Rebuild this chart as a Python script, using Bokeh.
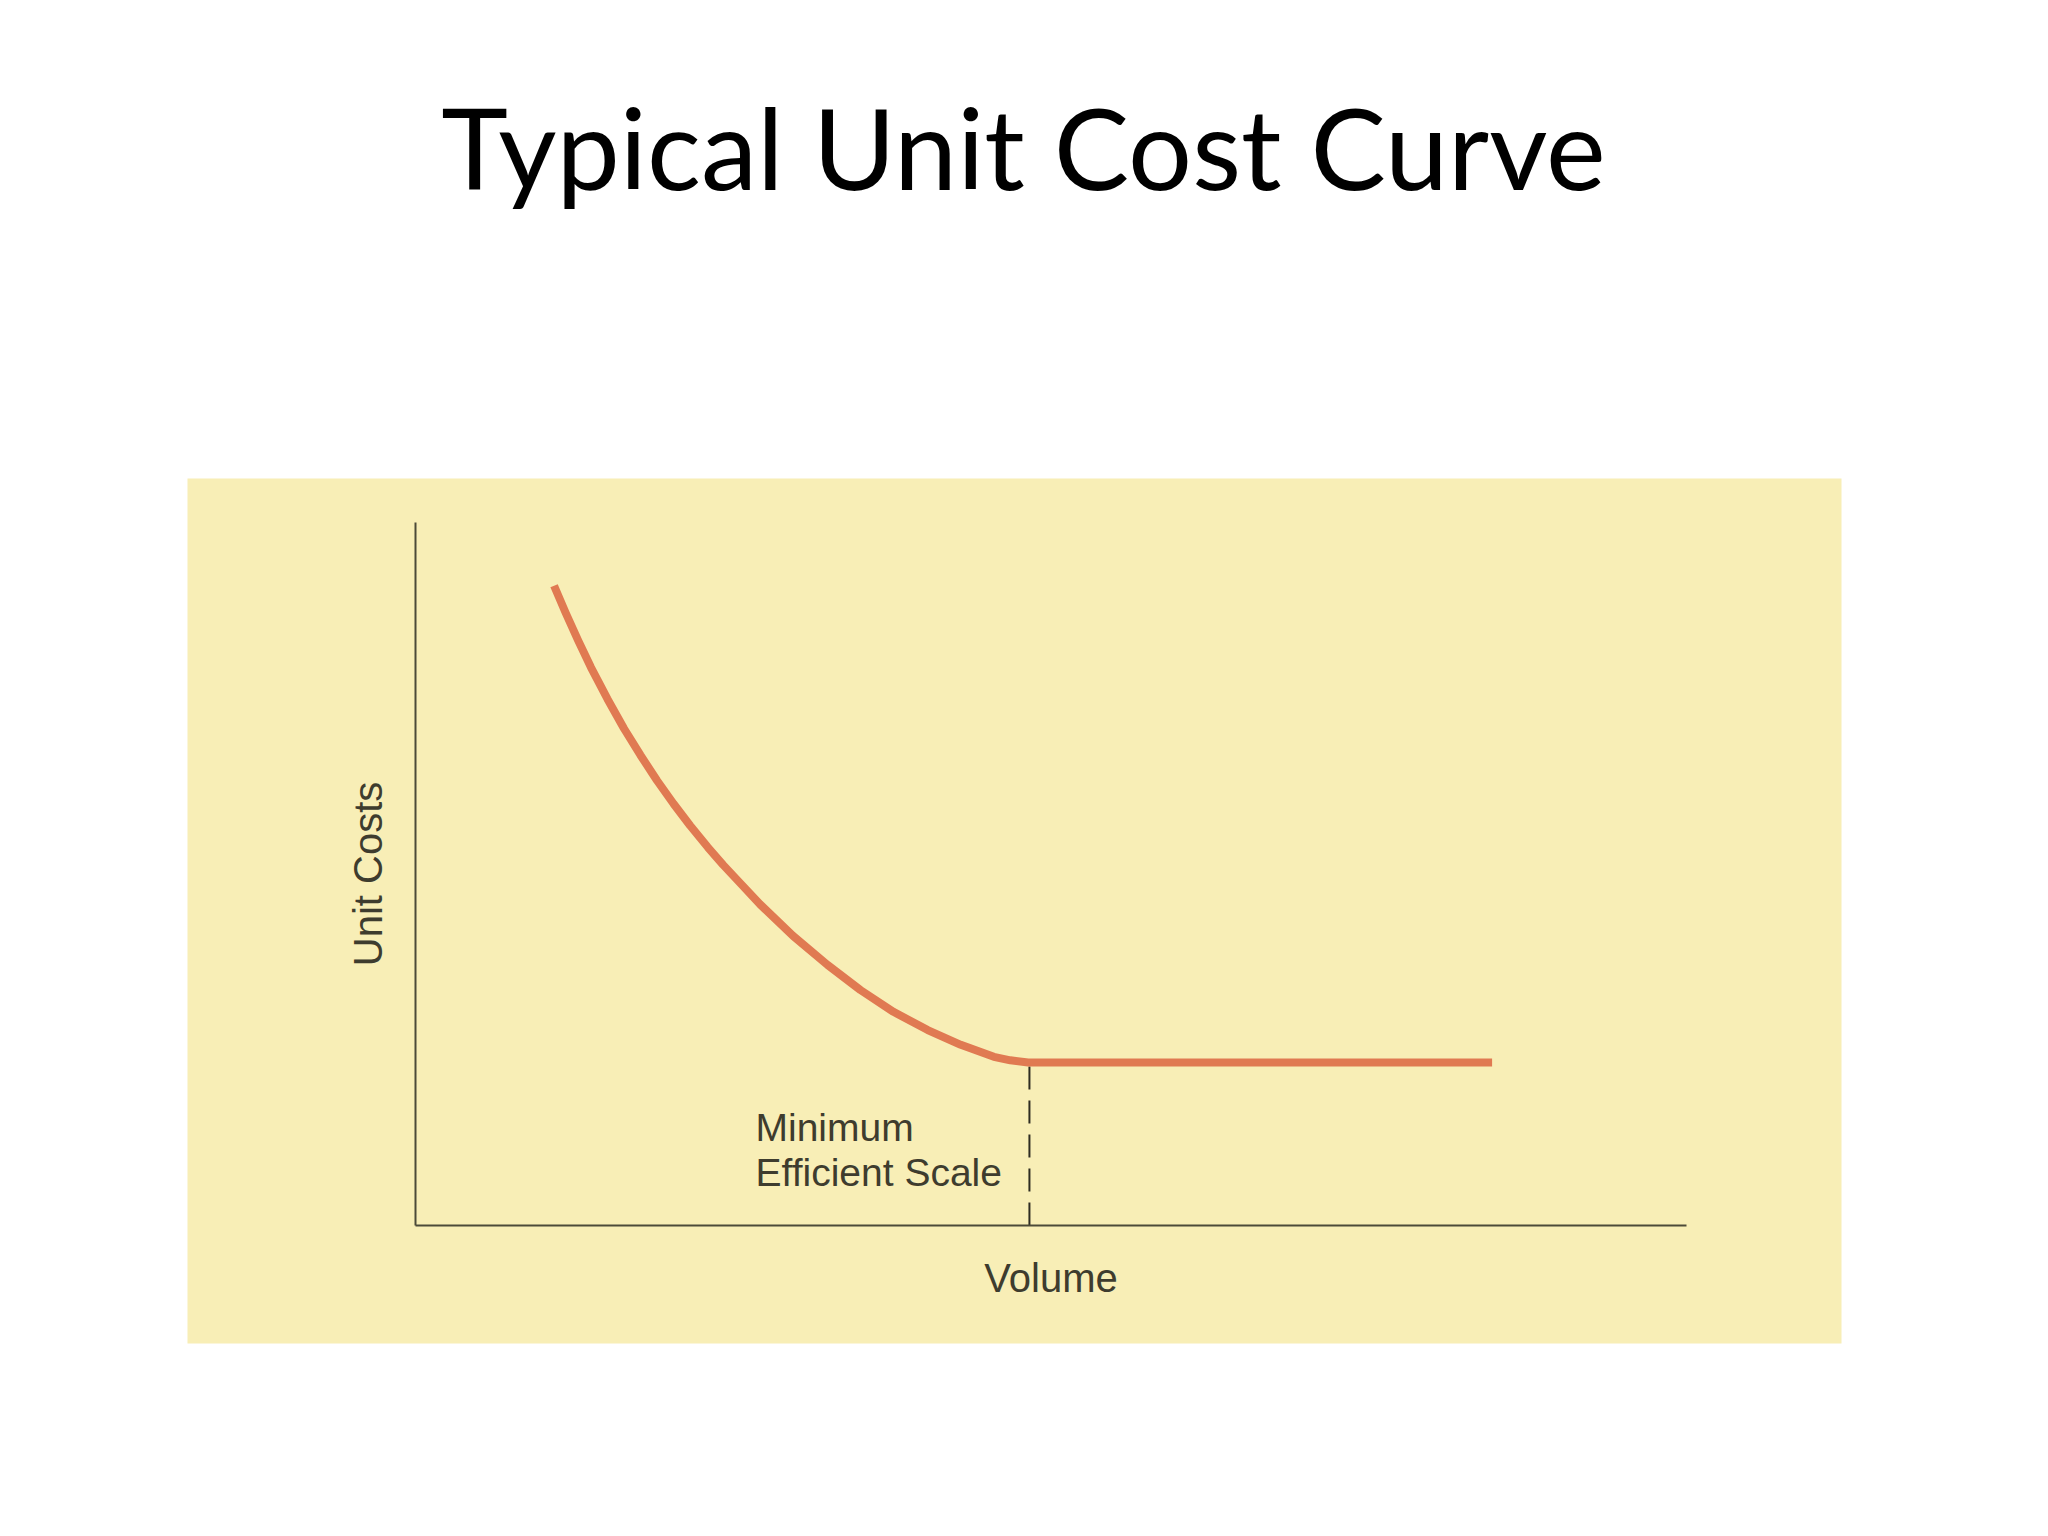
from bokeh.plotting import figure
from bokeh.layouts import column
from bokeh.models import Range1d, LinearAxis, FixedTicker, Label
from bokeh.core.properties import value
from bokeh.embed import file_html
from bokeh.resources import INLINE

# ---- data (volume and unit cost in arbitrary units 0..10) ----
volume = [1.09, 1.18, 1.28, 1.38, 1.51, 1.64, 1.77, 1.90, 2.03, 2.16, 2.30, 2.42, 2.56,
          2.71, 2.97, 3.24, 3.50, 3.76, 4.03, 4.29, 4.55, 4.68, 4.82, 8.47]
unit_cost = [9.10, 8.72, 8.32, 7.94, 7.49, 7.07, 6.69, 6.33, 6.00, 5.69, 5.38, 5.13, 4.86,
             4.57, 4.12, 3.71, 3.35, 3.04, 2.78, 2.57, 2.40, 2.35, 2.32, 2.32]
mes_volume = [4.83]
mes_cost = [2.32]
title_text = "Typical Unit Cost Curve"
x_label = "Volume"
y_label = "Unit Costs"
mes_lines = ["Minimum", "Efficient Scale"]

BG = "#f8eeb6"
CURVE = "#e07a52"
INK = "#3e3c2e"
AXIS = "#4c4a38"

# ---- title strip (its own figure, pixel coordinates) ----
TITLE_H = 300
t = figure(width=2032, height=TITLE_H, output_backend="svg", toolbar_location=None,
           x_range=Range1d(0, 2032), y_range=Range1d(TITLE_H, 0),
           min_border=0, x_axis_type=None, y_axis_type=None)
t.background_fill_color = "white"
t.border_fill_color = "white"
t.outline_line_color = None
t.xgrid.visible = False
t.ygrid.visible = False
t.text(x=[1027], y=[145], text=[title_text], text_font=value("Lato"),
       text_font_size="113px", text_color="black", text_align="center",
       text_baseline="alphabetic")

# ---- chart ----
p = figure(width=2032, height=1520 - TITLE_H, output_backend="svg", toolbar_location=None,
           x_range=Range1d(-1.794, 11.219), y_range=Range1d(-1.678, 10.626),
           min_border_left=187, min_border_right=191, min_border_top=478 - TITLE_H,
           min_border_bottom=177, x_axis_type=None, y_axis_type=None)
p.background_fill_color = BG
p.border_fill_color = "white"
p.outline_line_color = None
p.xgrid.visible = False
p.ygrid.visible = False

label_font = "Liberation Sans"

xaxis = LinearAxis(fixed_location=0, bounds=(0, 10), ticker=FixedTicker(ticks=[]),
                   axis_line_color=AXIS, axis_line_width=2,
                   major_tick_line_color=None, minor_tick_line_color=None,
                   major_label_text_alpha=0,
                   axis_label=x_label, axis_label_text_font=label_font,
                   axis_label_text_font_style="normal", axis_label_text_font_size="40px",
                   axis_label_text_color=INK, axis_label_standoff=30)
yaxis = LinearAxis(fixed_location=0, bounds=(0, 10), ticker=FixedTicker(ticks=[]),
                   axis_line_color=AXIS, axis_line_width=2,
                   major_tick_line_color=None, minor_tick_line_color=None,
                   major_label_text_alpha=0,
                   axis_label=y_label, axis_label_text_font=label_font,
                   axis_label_text_font_style="normal", axis_label_text_font_size="40px",
                   axis_label_text_color=INK, axis_label_standoff=26)
p.add_layout(xaxis, "below")
p.add_layout(yaxis, "left")

# dashed drop line at the minimum efficient scale
p.segment(x0=mes_volume, y0=[0], x1=mes_volume, y1=mes_cost,
          line_color="#2e2c22", line_width=2, line_dash="23 11")

# unit cost curve
p.line(volume, unit_cost, line_color=CURVE, line_width=8, line_cap="butt", line_join="round")

# annotation text
for i, s in enumerate(mes_lines):
    p.add_layout(Label(x=2.675, y=[1.394, 0.754][i], text=s, text_font=label_font,
                       text_font_size="39px", text_color=INK, text_align="left",
                       text_baseline="alphabetic"))

layout = column(t, p, spacing=0)
open("out.html", "w").write(file_html(layout, INLINE))
